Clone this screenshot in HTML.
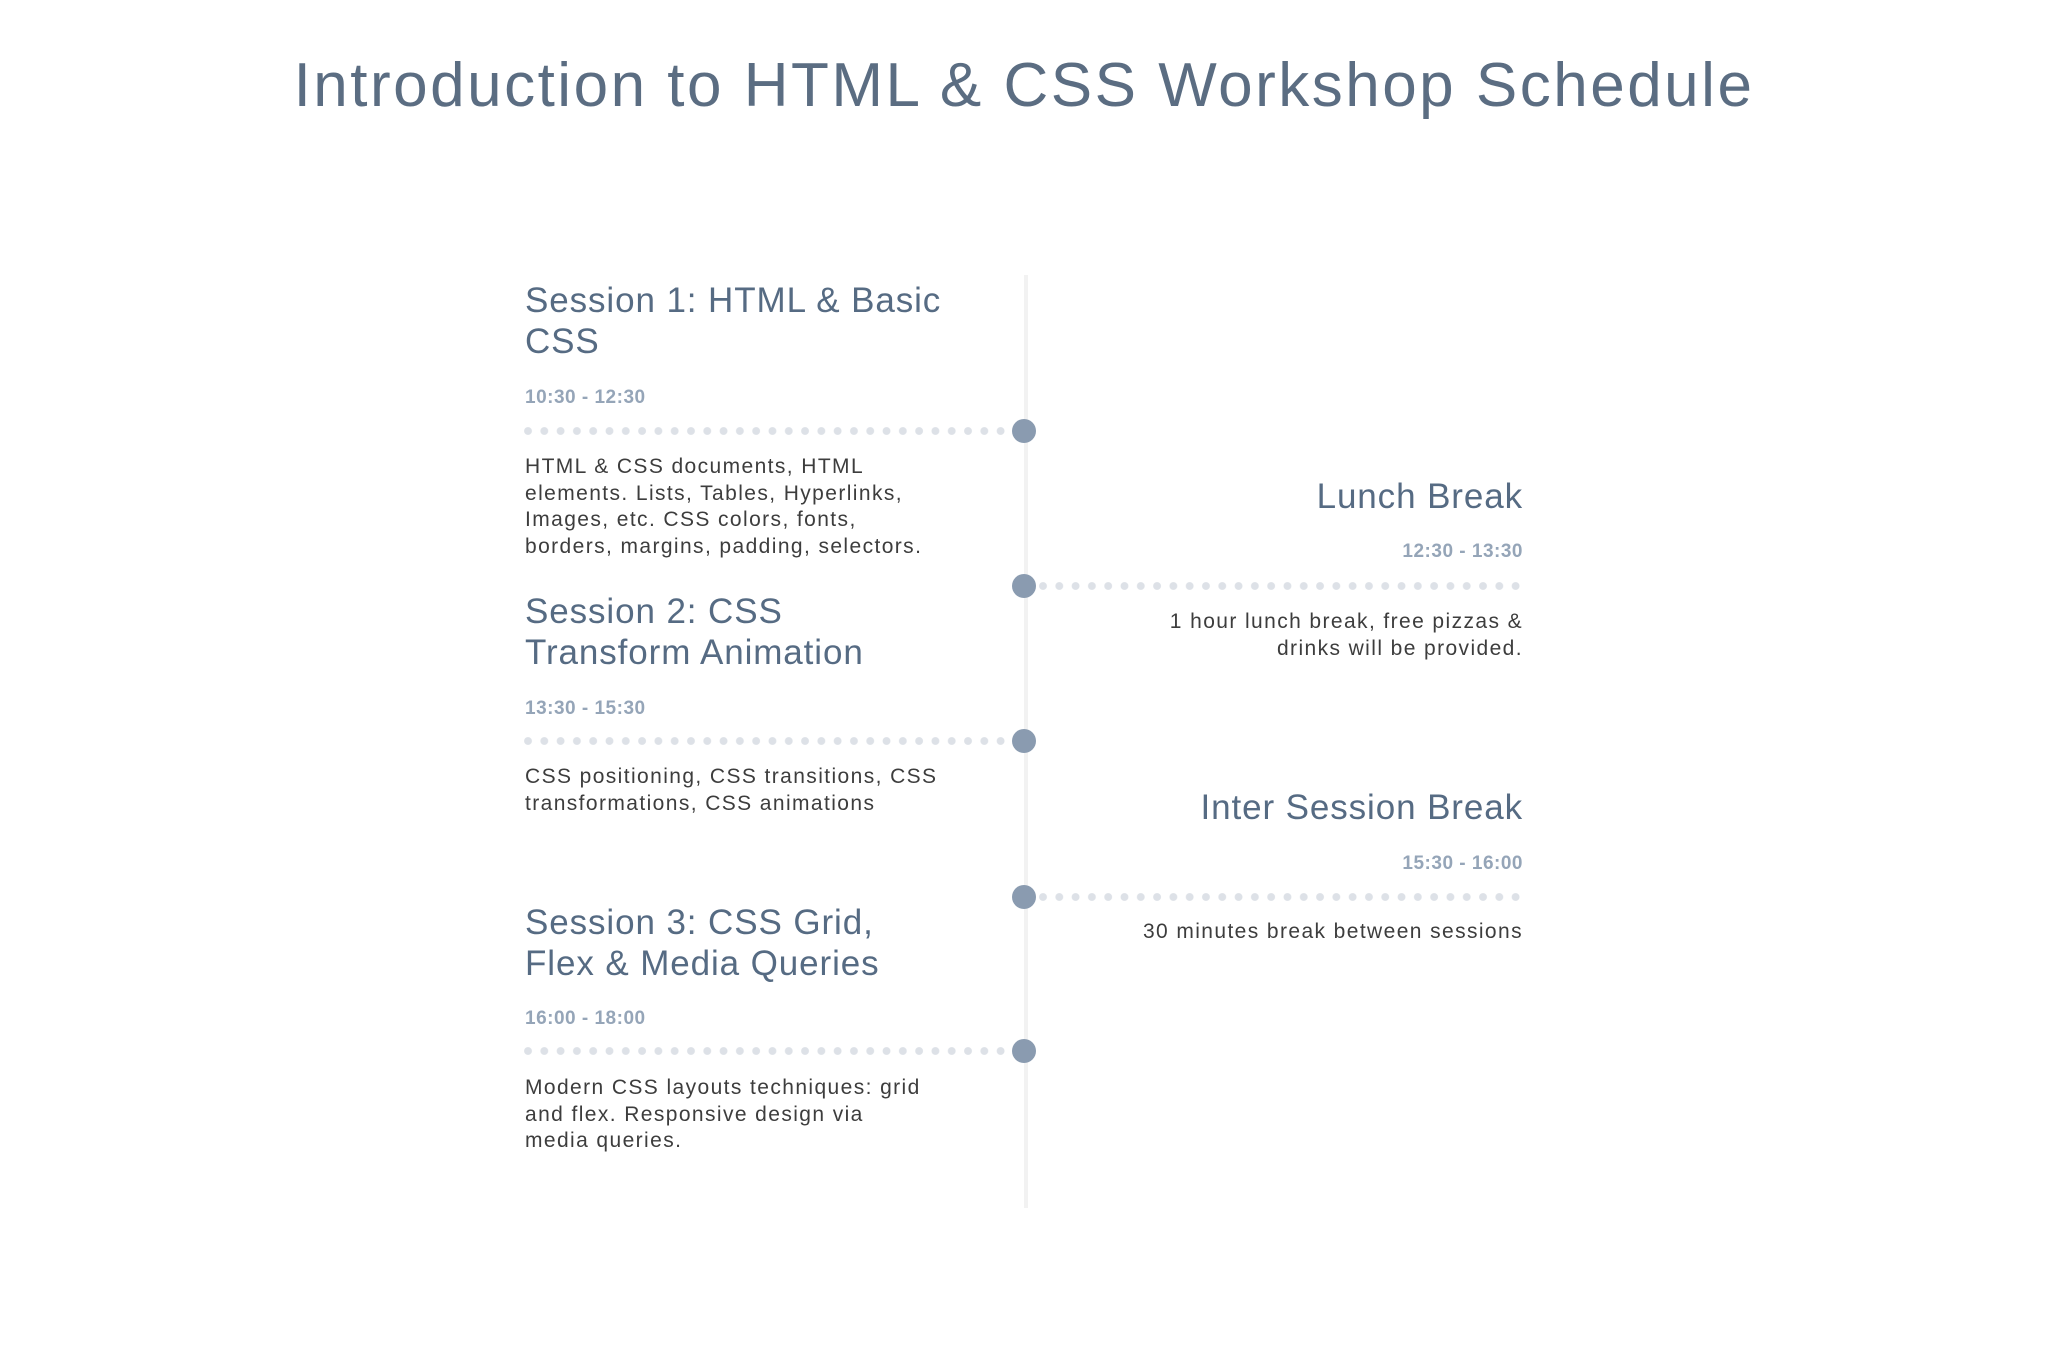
<!DOCTYPE html>
<html><head><meta charset="utf-8"><style>
html,body{margin:0;padding:0;background:#fff;}
body{width:2048px;height:1364px;position:relative;overflow:hidden;font-family:"Liberation Sans",sans-serif;}
.a{position:absolute;white-space:nowrap;}
.t{color:#5b6d82;font-size:62px;line-height:70px;left:0;width:2048px;text-align:center;top:51px;letter-spacing:2.5px;}
.h{color:#566b83;font-size:35px;line-height:41px;letter-spacing:0.9px;}
.tm{color:#95a5b8;font-size:19px;line-height:24px;font-weight:bold;letter-spacing:0.5px;}
.d{color:#3d3d3d;font-size:21px;line-height:26.5px;letter-spacing:1.4px;}
.L{left:525px;}
.R{right:525px;text-align:right;}
.dots{position:absolute;height:8px;background-image:radial-gradient(circle at 4px 4px,#dde1e7 3.6px,transparent 4.2px);background-size:16.3px 8px;background-repeat:repeat-x;}
.c{position:absolute;width:24px;height:24px;border-radius:50%;background:#8a9bb0;left:1012px;}
.vl{position:absolute;left:1024px;width:4px;top:275px;height:933px;background:#f2f2f2;}
</style></head><body>
<div class="a t">Introduction to HTML &amp; CSS Workshop Schedule</div>
<div class="vl"></div>

<div class="a h L" style="top:280px">Session 1: HTML &amp; Basic<br>CSS</div>
<div class="a tm L" style="top:386px">10:30 - 12:30</div>
<div class="dots" style="left:524px;width:488px;top:427px"></div>
<div class="c" style="top:419px"></div>
<div class="a d L" style="top:454px">HTML &amp; CSS documents, HTML<br>elements. Lists, Tables, Hyperlinks,<br>Images, etc. CSS colors, fonts,<br>borders, margins, padding, selectors.</div>

<div class="a h R" style="top:476px">Lunch Break</div>
<div class="a tm R" style="top:540px">12:30 - 13:30</div>
<div class="dots" style="left:1036px;width:490px;top:582px;background-position:3px 0"></div>
<div class="c" style="top:574px"></div>
<div class="a d R" style="top:609px">1 hour lunch break, free pizzas &amp;<br>drinks will be provided.</div>

<div class="a h L" style="top:591px">Session 2: CSS<br>Transform Animation</div>
<div class="a tm L" style="top:697px">13:30 - 15:30</div>
<div class="dots" style="left:524px;width:488px;top:737px"></div>
<div class="c" style="top:729px"></div>
<div class="a d L" style="top:764px">CSS positioning, CSS transitions, CSS<br>transformations, CSS animations</div>

<div class="a h R" style="top:787px">Inter Session Break</div>
<div class="a tm R" style="top:852px">15:30 - 16:00</div>
<div class="dots" style="left:1036px;width:490px;top:893px;background-position:3px 0"></div>
<div class="c" style="top:885px"></div>
<div class="a d R" style="top:919px">30 minutes break between sessions</div>

<div class="a h L" style="top:902px">Session 3: CSS Grid,<br>Flex &amp; Media Queries</div>
<div class="a tm L" style="top:1007px">16:00 - 18:00</div>
<div class="dots" style="left:524px;width:488px;top:1047px"></div>
<div class="c" style="top:1039px"></div>
<div class="a d L" style="top:1075px">Modern CSS layouts techniques: grid<br>and flex. Responsive design via<br>media queries.</div>
</body></html>
